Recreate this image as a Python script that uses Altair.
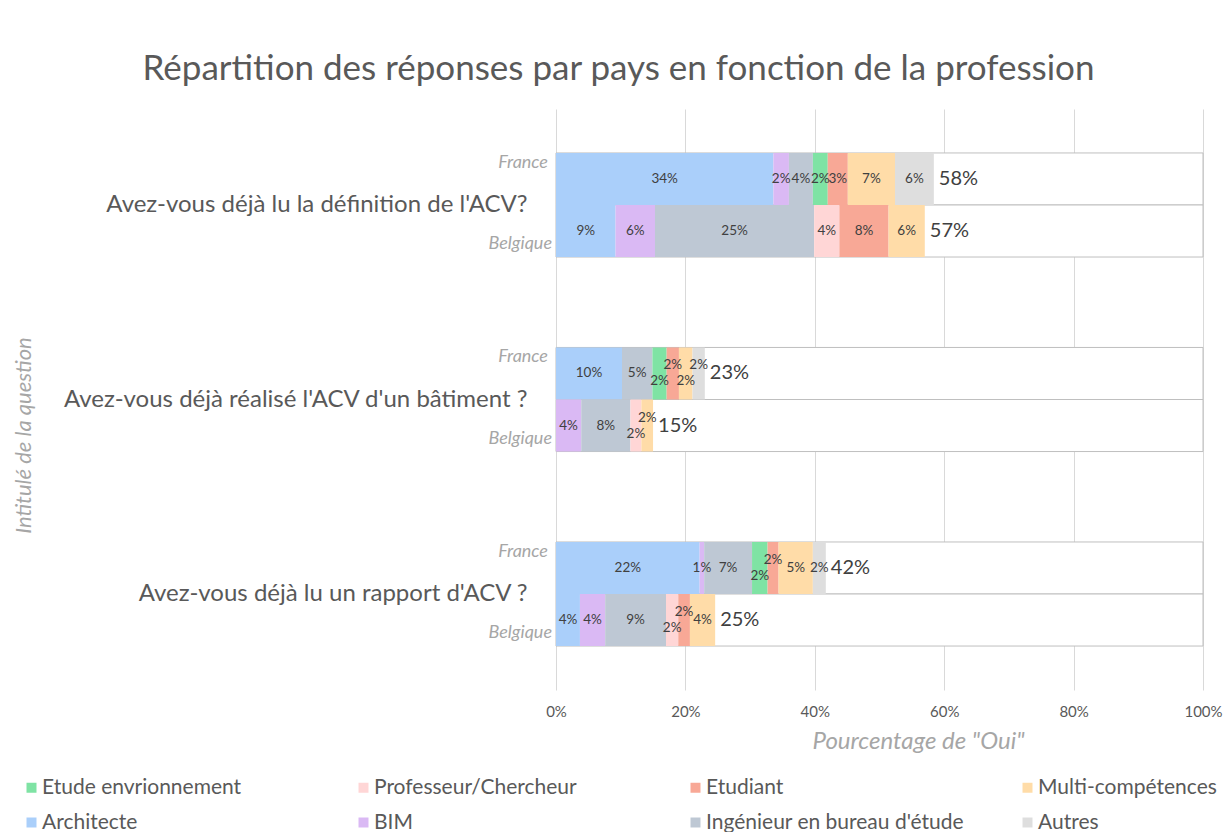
import altair as alt
import pandas as pd

# ---------------- data ----------------
questions = [
    "Avez-vous déjà lu la définition  de l'ACV?",
    "Avez-vous déjà réalisé l'ACV d'un bâtiment ?",
    "Avez-vous déjà lu un rapport d'ACV ?",
]
countries = ["France", "Belgique"]

# stacking order (left to right inside a bar)
professions = [
    "Architecte",
    "BIM",
    "Ingénieur en bureau d'étude",
    "Etude envrionnement",
    "Professeur/Chercheur",
    "Etudiant",
    "Multi-compétences",
    "Autres",
]
# legend order
legend_order = [
    "Etude envrionnement",
    "Professeur/Chercheur",
    "Etudiant",
    "Multi-compétences",
    "Architecte",
    "BIM",
    "Ingénieur en bureau d'étude",
    "Autres",
]
colors = {
    "Etude envrionnement": "#7FE3A4",
    "Professeur/Chercheur": "#FFD6D6",
    "Etudiant": "#F8A896",
    "Multi-compétences": "#FFDCA8",
    "Architecte": "#AACFFA",
    "BIM": "#DAB9F4",
    "Ingénieur en bureau d'étude": "#BEC8D4",
    "Autres": "#DEDEDE",
}

# % of "Oui" per bar: order = Q1 France, Q1 Belgique, Q2 France, Q2 Belgique, Q3 France, Q3 Belgique
architecte = [33.6, 9.2, 10.2, 0.0, 22.2, 3.7]
bim        = [2.4, 6.1, 0.0, 3.9, 0.7, 3.9]
ingenieur  = [3.7, 24.6, 4.7, 7.6, 7.4, 9.4]
etude_env  = [2.3, 0.0, 2.2, 0.0, 2.4, 0.0]
professeur = [0.0, 3.9, 0.0, 1.7, 0.0, 1.9]
etudiant   = [3.1, 7.6, 1.9, 0.0, 1.7, 1.8]
multi      = [7.3, 5.6, 2.1, 1.8, 5.3, 3.9]
autres     = [6.0, 0.0, 1.9, 0.0, 2.0, 0.0]

series = [architecte, bim, ingenieur, etude_env, professeur, etudiant, multi, autres]

# ---------------- tables ----------------
seg_rows = []
row_rows = []
bar_idx = 0
for q in questions:
    for c in countries:
        row_rows.append({"question": q, "country": c, "full": 1.0})
        segs = [(i, p, series[i][bar_idx]) for i, p in enumerate(professions) if series[i][bar_idx] > 0]
        # stagger labels of consecutive narrow segments (lower / upper alternately)
        stag = [0] * len(segs)
        j = 0
        while j < len(segs):
            if segs[j][2] < 2.5:
                k = j
                while k < len(segs) and segs[k][2] < 2.5:
                    k += 1
                if k - j >= 2:
                    for m in range(j, k):
                        stag[m] = 1 if (m - j) % 2 == 0 else -1
                j = k
            else:
                j += 1
        for (i, p, v), s in zip(segs, stag):
            seg_rows.append({
                "question": q, "country": c, "profession": p,
                "value": v / 100.0, "ord": i, "stagger": s,
            })
        bar_idx += 1

df_seg = pd.DataFrame(seg_rows)
df_rows = pd.DataFrame(row_rows)

FONT = "Lato"
GREY_TXT = "#595959"
LIGHT_TXT = "#A6A6A6"

x_scale = alt.Scale(domain=[0, 1], nice=False, zero=True)
y_scale = alt.Scale(paddingInner=0.465, paddingOuter=0.226)
yoff = alt.YOffset("country:N", sort=countries, scale=alt.Scale(paddingInner=0, paddingOuter=0))

X_TITLE = 'Pourcentage de "Oui"'
Y_TITLE = "Intitulé de la question"

x_axis = alt.Axis(
    values=[0, 0.2, 0.4, 0.6, 0.8, 1.0], format=".0%", grid=True, gridColor="#D9D9D9",
    domain=False, ticks=False, labelFontSize=15, labelColor=GREY_TXT, labelFont=FONT,
    labelPadding=14, labelFlush=False, labelOverlap=False, titleFontSize=24, titleFont=FONT,
    titleFontStyle="italic", titleFontWeight="normal", titleColor=LIGHT_TXT,
    titleX=362, titleY=51, titleBaseline="middle", titleAlign="center",
)
y_axis = alt.Axis(
    domain=False, ticks=False, grid=False, labelFontSize=24, labelColor=GREY_TXT,
    labelFont=FONT, labelPadding=29, labelLimit=700, labelAlign="right",
    titleFontSize=22, titleFont=FONT,
    titleFontStyle="italic", titleFontWeight="normal", titleColor=LIGHT_TXT,
    titleAngle=270, titleX=-533, titleY=326, titleBaseline="middle", titleAlign="center",
)


def X(field):
    return alt.X(field, scale=x_scale, axis=x_axis, title=X_TITLE)


Y = alt.Y("question:N", sort=questions, scale=y_scale, axis=y_axis, title=Y_TITLE)

bg = alt.Chart(df_rows).mark_bar(fill="white", stroke="#BFBFBF", strokeWidth=1).encode(
    x=X("full:Q"),
    y=Y,
    yOffset=yoff,
)

stacked = alt.Chart(df_seg).transform_stack(
    stack="value", groupby=["question", "country"], as_=["x0", "x1"],
    sort=[alt.SortField("ord", order="ascending")],
).transform_calculate(mid="(datum.x0 + datum.x1) / 2")

bars = stacked.mark_bar(strokeWidth=0).encode(
    x=X("x0:Q"),
    x2="x1:Q",
    y=Y,
    yOffset=yoff,
    color=alt.Color(
        "profession:N",
        scale=alt.Scale(domain=legend_order, range=[colors[p] for p in legend_order]),
        legend=alt.Legend(
            title=None, orient="none", legendX=-535, legendY=668, direction="horizontal",
            columns=4, gridAlign="all", columnPadding=52, rowPadding=13,
            symbolType="square", symbolSize=100, symbolStrokeWidth=0, labelOffset=0,
            labelFontSize=21, labelFont=FONT, labelColor=GREY_TXT, labelLimit=400, padding=0,
        ),
    ),
)


def seg_text(stag, dy):
    return stacked.transform_filter(f"datum.stagger == {stag}").mark_text(
        font=FONT, fontSize=13.5, color="#404040", dy=dy
    ).encode(
        x=X("mid:Q"),
        y=Y,
        yOffset=yoff,
        text=alt.Text("value:Q", format=".0%"),
    )


labels_mid = seg_text(0, 0)
labels_low = seg_text(1, 8)
labels_up = seg_text(-1, -8)

totals = alt.Chart(df_seg).transform_aggregate(
    total="sum(value)", groupby=["question", "country"]
).mark_text(font=FONT, fontSize=20, color="#404040", align="left", dx=5).encode(
    x=X("total:Q"),
    y=Y,
    yOffset=yoff,
    text=alt.Text("total:Q", format=".0%"),
)


def country_text(name, dx_px, dy):
    return alt.Chart(df_rows).transform_filter(f"datum.country == '{name}'").mark_text(
        font=FONT, fontSize=18, fontStyle="italic", color=LIGHT_TXT, align="right", dy=dy
    ).encode(
        x=alt.value(dx_px),
        y=Y,
        yOffset=yoff,
        text="country:N",
    )


fr_lab = country_text("France", -8, -16)
be_lab = country_text("Belgique", -4, 13)

chart = alt.layer(bg, bars, labels_mid, labels_low, labels_up, totals, fr_lab, be_lab).properties(
    width=647,
    height=581,
    autosize=alt.AutoSizeParams(type="none"),
    padding={"left": 548, "top": 101, "right": 21, "bottom": 142},
    title=alt.TitleParams(
        "Répartition des réponses par pays en fonction de la profession",
        font=FONT, fontSize=35, fontWeight="normal", color=GREY_TXT, anchor="middle",
        dx=-261, dy=36, offset=30, baseline="alphabetic",
    ),
).configure(font=FONT, background="white").configure_view(strokeWidth=0)

chart.save("out.html", embed_options={"renderer": "svg", "actions": False})
